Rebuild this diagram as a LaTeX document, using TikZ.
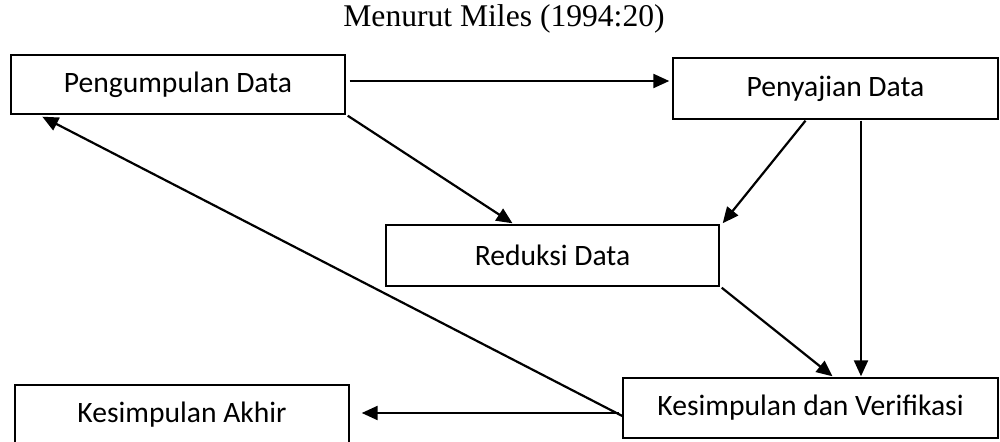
\documentclass[tikz,border=0pt]{standalone}
\usepackage{fontspec}
\setmainfont{Liberation Serif}
\newfontfamily\boxfont{Carlito}
\usetikzlibrary{arrows.meta}

\begin{document}
\begin{tikzpicture}[x=0.5pt,y=-0.5pt,
    kotak/.style={draw,line width=0.7pt,inner sep=0pt,font=\boxfont\fontsize{14.8}{17}\selectfont},
    panah/.style={line width=1.1pt,-{Triangle[length=8pt,width=7pt]}}]
            \useasboundingbox (0,0) rectangle (1000,442);
            \node[font=\fontsize{15.8}{19}\selectfont] (judul) at (504,19) {Menurut Miles (1994:20)};
            \node[kotak,minimum width=334*0.5pt,minimum height=59*0.5pt] (peng) at (178,84.5) {Pengumpulan Data};
            \node[kotak,minimum width=325*0.5pt,minimum height=61*0.5pt] (peny) at (835.5,88.5) {Penyajian Data};
            \node[kotak,minimum width=333*0.5pt,minimum height=61*0.5pt] (red) at (552.5,255.5) {Reduksi Data};
            \node[kotak,minimum width=334*0.5pt,minimum height=60*0.5pt] (akhir) at (182,415) {Kesimpulan Akhir};
            \node[kotak,minimum width=375*0.5pt,minimum height=60*0.5pt] (kdv) at (810.5,408) {Kesimpulan dan Verifikasi};
            \draw[panah] ([shift={(4,-3.5)}]peng.east) -- ([shift={(-3,-7.5)}]peny.west);
            \draw[panah] ([shift={(2,1)}]peng.south east) -- ([shift={(-40,-1)}]red.north);
            \draw[panah] ([shift={(-30,1)}]peny.south) -- ([shift={(3,-1)}]red.north east);
            \draw[panah] ([shift={(25.5,1)}]peny.south) -- ([shift={(50.5,-1)}]kdv.north);
            \draw[panah] ([shift={(2,1)}]red.south east) -- ([shift={(22,-1)}]kdv.north);
            \draw[panah] ([shift={(0,8)}]kdv.west) -- ([shift={(32,2)}]peng.south west);
            \draw[panah] ([shift={(-3,5)}]kdv.west) -- ([shift={(12,-2)}]akhir.east);
    \end{tikzpicture}
\end{document}
